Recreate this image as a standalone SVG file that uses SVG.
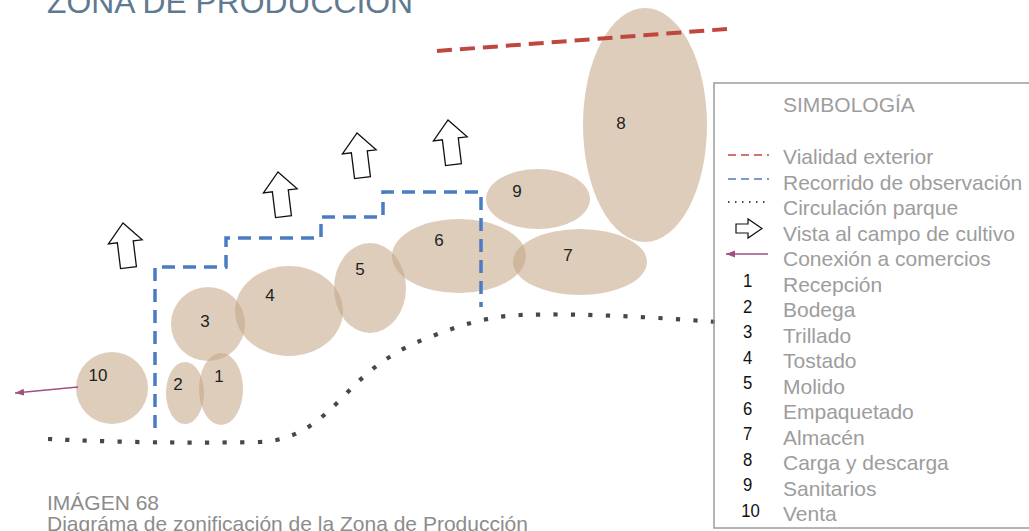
<svg xmlns="http://www.w3.org/2000/svg" width="1029" height="531" viewBox="0 0 1029 531">
<style>
.zone{fill:#c4a585;fill-opacity:0.56;}
.zl{font-family:"Liberation Sans",Arial,sans-serif;font-size:17px;fill:#222;text-anchor:middle;}
.view{fill:#fff;stroke:#111;stroke-width:1.3;stroke-linejoin:miter;}
.lg{font-family:"Liberation Sans",Arial,sans-serif;font-size:21px;fill:#9d9d9d;}
.num{font-family:"Liberation Sans",Arial,sans-serif;font-size:19px;fill:#111;}
.cap{font-family:"Liberation Sans",Arial,sans-serif;font-size:21px;fill:#8c8c8c;}
</style>
<defs>
<path id="upArrow" d="M0,0 L17,19 L8,19 L8,45 L-8,45 L-8,19 L-17,19 Z"/>
<marker id="pinkHead" markerWidth="10" markerHeight="8" refX="9" refY="4" orient="auto" markerUnits="userSpaceOnUse">
<path d="M9,4 L0,0.5 L0,7.5 Z" fill="#a24f7f"/>
</marker>
</defs>
<rect width="1029" height="531" fill="#fff"/>

<text x="47" y="13" font-family="'Liberation Sans',Arial,sans-serif" font-size="31.5" fill="#5f7990" textLength="366" lengthAdjust="spacingAndGlyphs">ZONA DE PRODUCCIÓN</text>

<g id="node-8"><ellipse class="zone" cx="645" cy="125" rx="62" ry="117"/><text class="zl" x="621" y="129">8</text></g>
<g id="node-9"><ellipse class="zone" cx="538" cy="199" rx="52" ry="30"/><text class="zl" x="517" y="197">9</text></g>
<g id="node-7"><ellipse class="zone" cx="580" cy="262" rx="67" ry="33"/><text class="zl" x="568" y="261">7</text></g>
<g id="node-6"><ellipse class="zone" cx="459" cy="256" rx="67" ry="37"/><text class="zl" x="439" y="246">6</text></g>
<g id="node-5"><ellipse class="zone" cx="370" cy="288" rx="36" ry="45"/><text class="zl" x="360" y="275">5</text></g>
<g id="node-4"><ellipse class="zone" cx="289" cy="311" rx="54" ry="45"/><text class="zl" x="270" y="301">4</text></g>
<g id="node-3"><ellipse class="zone" cx="208" cy="324" rx="37" ry="37"/><text class="zl" x="205" y="327">3</text></g>
<g id="node-1"><ellipse class="zone" cx="221" cy="389" rx="22" ry="36"/><text class="zl" x="219" y="382">1</text></g>
<g id="node-2"><ellipse class="zone" cx="185" cy="393" rx="19" ry="31"/><text class="zl" x="178" y="390">2</text></g>
<g id="node-10"><ellipse class="zone" cx="112" cy="388" rx="36" ry="36"/><text class="zl" x="98" y="381">10</text></g>

<g id="views">
<use href="#upArrow" class="view" transform="translate(123,223) rotate(-7)"/>
<use href="#upArrow" class="view" transform="translate(278,172) rotate(-7)"/>
<use href="#upArrow" class="view" transform="translate(357,133) rotate(-7)"/>
<use href="#upArrow" class="view" transform="translate(448,120) rotate(-7)"/>
</g>

<g id="connectors" fill="none">
<path d="M437,51 L727,29" stroke="#c0473f" stroke-width="4" stroke-dasharray="15 8"/>
<path d="M155,428 V267 H226 V238 H321 V217 H383 V192 H481 V307" stroke="#4a7cc4" stroke-width="3.5" stroke-dasharray="13 8"/>
<path d="M48,439 Q150,444 260,442 C300,440 320,420 345,395 C370,368 395,350 430,337 C460,325 490,316 520,315 C580,313 650,317 718,322" stroke="#474747" stroke-width="4.2" stroke-dasharray="4.2 13.3"/>
<path d="M78,387 L15,393" stroke="#a24f7f" stroke-width="1.6" marker-end="url(#pinkHead)"/>
</g>

<g id="legend">
<rect x="714" y="83" width="330" height="445" fill="none" stroke="#9c9c9c" stroke-width="1.5"/>
<text class="lg" x="783" y="112">SIMBOLOGÍA</text>
<line x1="728" y1="155" x2="769" y2="155" stroke="#c0473f" stroke-width="1.5" stroke-dasharray="8 5"/>
<line x1="728" y1="179" x2="769" y2="179" stroke="#4a7cc4" stroke-width="1.5" stroke-dasharray="8 5"/>
<line x1="728" y1="202" x2="769" y2="202" stroke="#111" stroke-width="1.5" stroke-dasharray="1.5 5.5"/>
<path d="M736,224 H748 V219 L762,228.5 L748,238 V233 H736 Z" fill="#fff" stroke="#111" stroke-width="1.2"/>
<line x1="768" y1="254" x2="726" y2="254" stroke="#a24f7f" stroke-width="1.6" marker-end="url(#pinkHead)"/>
<text class="lg" x="783" y="164">Vialidad exterior</text>
<text class="lg" x="783" y="189.5">Recorrido de observación</text>
<text class="lg" x="783" y="215">Circulación parque</text>
<text class="lg" x="783" y="240.5">Vista al campo de cultivo</text>
<text class="lg" x="783" y="266">Conexión a comercios</text>
<text class="lg" x="783" y="291.5">Recepción</text>
<text class="lg" x="783" y="317">Bodega</text>
<text class="lg" x="783" y="342.5">Trillado</text>
<text class="lg" x="783" y="368">Tostado</text>
<text class="lg" x="783" y="393.5">Molido</text>
<text class="lg" x="783" y="419">Empaquetado</text>
<text class="lg" x="783" y="444.5">Almacén</text>
<text class="lg" x="783" y="470">Carga y descarga</text>
<text class="lg" x="783" y="495.5">Sanitarios</text>
<text class="lg" x="783" y="521">Venta</text>
<g transform="translate(743,0) scale(0.88,1)">
<text class="num" x="0" y="287.5">1</text>
<text class="num" x="0" y="313">2</text>
<text class="num" x="0" y="338.5">3</text>
<text class="num" x="0" y="364">4</text>
<text class="num" x="0" y="389.5">5</text>
<text class="num" x="0" y="415">6</text>
<text class="num" x="0" y="440.5">7</text>
<text class="num" x="0" y="466">8</text>
<text class="num" x="0" y="491.5">9</text>
<text class="num" x="-2" y="517">10</text>
</g>
</g>

<g id="caption">
<text class="cap" x="47" y="510">IMÁGEN 68</text>
<text class="cap" x="47" y="531">Diagráma de zonificación de la Zona de Producción</text>
</g>
</svg>
